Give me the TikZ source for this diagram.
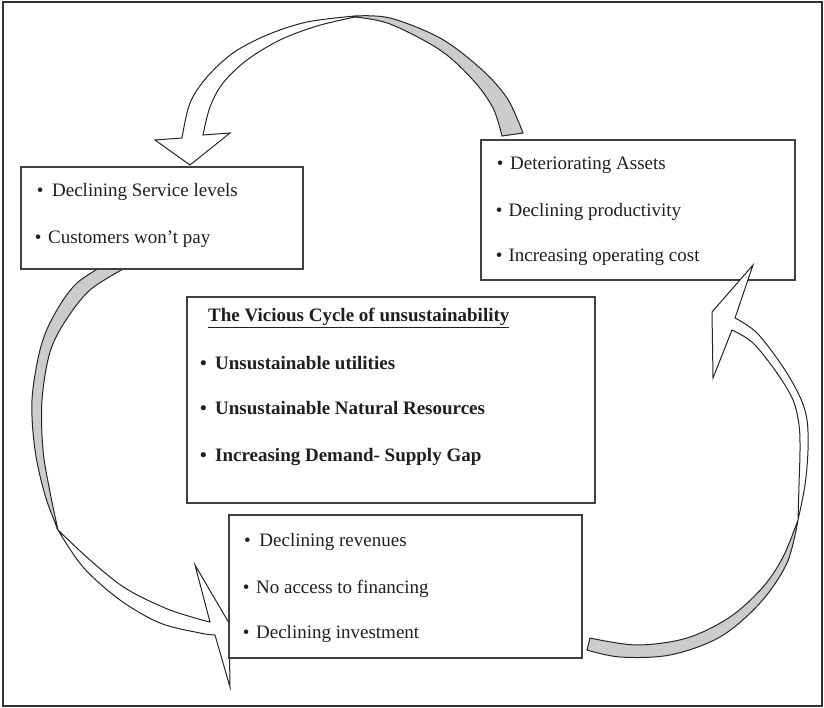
\documentclass[tikz,border=0pt]{standalone}
\usepackage{fontspec}
\setmainfont{Liberation Serif}
\begin{document}
\begin{tikzpicture}[x=1pt,y=-1pt,
  box/.style={draw=black!75,line width=1.3pt,fill=white,inner sep=0pt,rectangle},
  txt/.style={anchor=base west,inner sep=0pt,text=black!88,font=\fontsize{19}{23}\selectfont},
  btxt/.style={txt,font=\fontsize{19}{23}\selectfont\bfseries},
  band/.style={draw=black!85,line width=1pt,line join=miter},
  smoothplot/.style={smooth,tension=0.55}]
\useasboundingbox (0,0) rectangle (824,708);
\fill[white] (0,0) rectangle (824,708);
\draw[line width=2pt,black!80] (3,2.5) rectangle (821.5,706);
\newcommand\bitem[2]{\textbullet\hspace{#1pt}#2}

% ---- top arrow (right box -> left box)
\filldraw[band,fill=white]
  plot[smoothplot] coordinates {(355,16) (307,22) (267,35) (233,53) (207,77) (190,103) (182,138)}
  -- (155,140) -- (190,165) -- (230,133) -- (203,135)
  -- plot[smoothplot] coordinates {(203,135) (210,107) (223,83) (247,60) (280,40) (317,26) (355,17)} -- cycle;
\filldraw[band,fill=black!20]
  plot[smoothplot] coordinates {(355,16) (390,18) (440,38) (480,68) (507,98) (523,133)}
  -- (502,136)
  -- plot[smoothplot] coordinates {(502,136) (493,108) (473,80) (440,50) (390,24) (355,17)} -- cycle;

% ---- left arrow (left box -> bottom box)
\filldraw[band,fill=black!20]
  plot[smoothplot] coordinates {(117,258) (77,283) (53,317) (40,350) (32,400) (35,450) (45,495) (58,530)}
  -- plot[smoothplot] coordinates {(58,530) (50,492) (43,450) (42,400) (50,352) (66,320) (90,290) (125,268)} -- cycle;
\filldraw[band,fill=white]
  plot[smoothplot] coordinates {(58,530) (83,567) (120,600) (160,623) (200,633) (215,635)}
  -- (230,687) -- (229,623) -- (195,565) -- (210,622)
  -- plot[smoothplot] coordinates {(210,622) (195,618) (165,608) (125,588) (90,560) (58,530)} -- cycle;

% ---- boxes
\node[box,minimum width=282pt,minimum height=102pt] (svc) at (162,218) {};
\node[box,minimum width=314pt,minimum height=140pt] (assets) at (638,210) {};
\node[box,minimum width=408pt,minimum height=206pt] (core) at (391,400) {};
\node[box,minimum width=353pt,minimum height=143pt] (rev) at (405.5,586.5) {};

% ---- right arrow (bottom box -> right box)
\filldraw[band,fill=white]
  plot[smoothplot] coordinates {(735,318) (757,333) (783,367) (800,397) (807,420) (808,450) (805,485) (798,520)}
  -- plot[smoothplot] coordinates {(798,520) (799,485) (800,450) (799,425) (793,400) (777,373) (753,343) (732,330)}
  -- (713,378) -- (712,312) -- (753,265) -- cycle;
\filldraw[band,fill=black!20]
  plot[smoothplot] coordinates {(798,520) (787,563) (760,603) (720,637) (670,655) (620,657) (587,650)}
  -- (590,638)
  -- plot[smoothplot] coordinates {(590,638) (637,645) (687,638) (730,617) (763,587) (783,557) (798,520)} -- cycle;

% ---- texts
\node[txt] (a1) at (36.7,197) {\bitem{8.6}{Declining Service levels}};
\node[txt] (a2) at (34.7,244) {\bitem{6.6}{Customers won't pay}};

\node[txt] (b1) at (496.7,170) {\bitem{6.6}{Deteriorating Assets}};
\node[txt] (b2) at (495.7,217) {\bitem{6}{Declining productivity}};
\node[txt] (b3) at (495.7,262) {\bitem{6}{Increasing operating cost}};

\node[btxt] (c0) at (208,322) {\underline{The Vicious Cycle of unsustainability}};
\node[btxt] (c1) at (200,369) {\bitem{8.3}{Unsustainable utilities}};
\node[btxt] (c2) at (200,414) {\bitem{8.3}{Unsustainable Natural Resources}};
\node[btxt] (c3) at (200,461) {\bitem{8.3}{Increasing Demand- Supply Gap}};

\node[txt] (d1) at (244,546) {\bitem{8.6}{Declining revenues}};
\node[txt] (d2) at (242.7,593) {\bitem{6.6}{No access to financing}};
\node[txt] (d3) at (242.7,638) {\bitem{6.6}{Declining investment}};
\end{tikzpicture}
\end{document}
